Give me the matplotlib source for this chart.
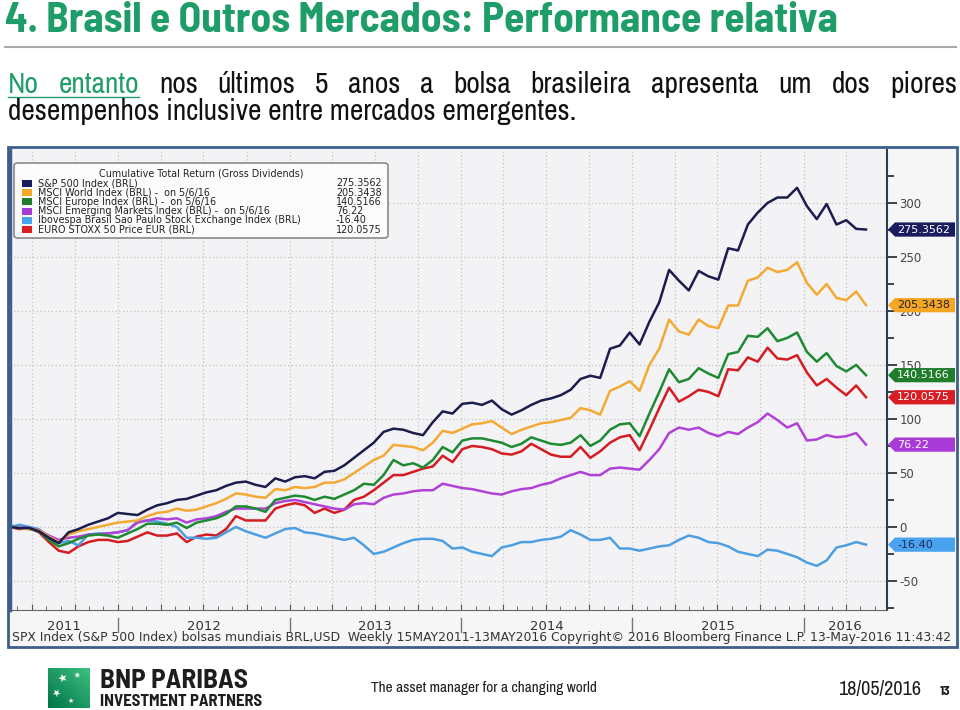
import numpy as np
import pandas as pd
import matplotlib
matplotlib.use('Agg')
import matplotlib.pyplot as plt
import matplotlib.dates as mdates
from matplotlib.lines import Line2D
from matplotlib.patches import Rectangle, Polygon, FancyBboxPatch
from matplotlib.ticker import MultipleLocator
from matplotlib.transforms import blended_transform_factory
from matplotlib.colors import LinearSegmentedColormap

plt.rcParams['axes.unicode_minus'] = False

W, H = 960, 710

dates = pd.date_range('2011-05-15', '2016-05-13', periods=88)

spx = [0, -1, -1, -4, -10, -15, -5, -2, 2, 5,
       8, 13, 12, 11, 16, 20, 22, 25, 26, 29,
       32, 34, 38, 41, 42, 39, 37, 45, 42, 46,
       47, 45, 51, 52, 57, 64, 71, 78, 88, 91,
       90, 87, 85, 97, 107, 105, 114, 115, 113, 117,
       109, 104, 108, 113, 117, 119, 122, 127, 137, 140,
       138, 165, 168, 180, 169, 190, 208, 238, 228, 219,
       237, 232, 229, 258, 256, 280, 291, 300, 305, 305,
       314, 297, 285, 299, 280, 284, 276, 275.36]

world = [0, -1, -2, -3, -9, -14, -7, -4, -2, 0,
         2, 4, 5, 6, 10, 13, 14, 17, 15, 16,
         19, 22, 26, 31, 30, 28, 27, 35, 34, 37,
         36, 37, 41, 41, 44, 50, 56, 62, 66, 76,
         75, 74, 71, 78, 89, 87, 91, 95, 96, 98,
         92, 86, 90, 93, 96, 97, 99, 101, 110, 108,
         104, 126, 130, 135, 126, 150, 165, 192, 181, 178,
         192, 186, 184, 205, 205, 228, 231, 240, 236, 238,
         245, 226, 215, 225, 212, 210, 218, 205.34]

europe = [0, -1, -2, -4, -12, -18, -15, -11, -8, -7,
          -8, -10, -6, -2, 3, 3, 2, 4, -1, 4,
          6, 8, 12, 19, 19, 17, 14, 25, 27, 29,
          28, 25, 28, 26, 30, 34, 40, 39, 48, 62,
          57, 59, 55, 62, 74, 69, 80, 82, 82, 80,
          78, 74, 77, 83, 80, 77, 76, 78, 85, 75,
          80, 90, 95, 96, 84, 105, 125, 146, 134, 137,
          147, 142, 138, 160, 162, 177, 176, 184, 172, 175,
          180, 162, 153, 161, 149, 144, 150, 140.52]

emerging = [0, -1, -1, -3, -8, -12, -10, -9, -7, -7,
            -6, -5, -3, 4, 6, 8, 7, 8, 4, 7,
            8, 10, 14, 17, 17, 17, 17, 22, 24, 25,
            23, 21, 19, 17, 16, 21, 22, 21, 27, 30,
            31, 33, 34, 34, 40, 38, 36, 35, 33, 31,
            30, 33, 35, 36, 39, 41, 45, 48, 51, 48,
            48, 54, 55, 54, 53, 62, 72, 87, 92, 90,
            92, 87, 84, 88, 86, 92, 97, 105, 99, 92,
            96, 80, 81, 85, 83, 84, 87, 76.22]

ibovespa = [0, 2, 0, -2, -10, -15, -13, -17, -7, -6,
            -6, -5, -3, 5, 6, 5, 3, 0, -10, -10,
            -11, -10, -5, 0, -4, -7, -10, -6, -2, -1,
            -5, -6, -8, -10, -12, -10, -17, -25, -23, -19,
            -15, -12, -11, -11, -13, -20, -19, -23, -25, -27,
            -19, -17, -14, -14, -12, -11, -9, -3, -7, -12,
            -12, -10, -20, -20, -22, -20, -18, -17, -12, -8,
            -10, -14, -15, -18, -23, -25, -27, -21, -22, -25,
            -28, -33, -36, -31, -19, -17, -14, -16.40]

eurostoxx = [0, -2, -1, -5, -14, -22, -24, -18, -14, -12,
             -12, -14, -13, -9, -5, -8, -8, -6, -14, -9,
             -7, -8, -2, 10, 6, 6, 6, 17, 20, 22,
             20, 13, 17, 13, 16, 25, 28, 34, 41, 48,
             48, 51, 54, 56, 66, 60, 72, 75, 74, 72,
             68, 67, 70, 77, 72, 67, 65, 65, 74, 64,
             70, 78, 83, 85, 71, 90, 110, 129, 116, 121,
             127, 125, 121, 146, 145, 157, 153, 166, 156, 155,
             159, 143, 131, 137, 129, 122, 131, 120.06]

names = ['S&P 500 Index (BRL)',
         'MSCI World Index (BRL) -  on 5/6/16',
         'MSCI Europe Index (BRL) -  on 5/6/16',
         'MSCI Emerging Markets Index (BRL) -  on 5/6/16',
         'Ibovespa Brasil Sao Paulo Stock Exchange Index (BRL)',
         'EURO STOXX 50 Price EUR (BRL)']
last_txt = ['275.3562', '205.3438', '140.5166', '76.22', '-16.40', '120.0575']
series = [spx, world, europe, emerging, ibovespa, eurostoxx]

line_cols = ['#1c1d4f', '#f5a935', '#1e8a31', '#b142d8', '#4d9fe2', '#d41c22']
tag_cols = ['#1b1c5e', '#f5a623', '#1f7d2c', '#a83bd8', '#4aa3ef', '#d81e24']
tag_txt = ['white', '#222222', 'white', 'white', '#1b2a5a', 'white']

green = '#1f9d69'
narrow = ['Archivo Narrow', 'Liberation Sans', 'DejaVu Sans']
narrow_bold = ['Barlow Semi Condensed', 'PT Sans Narrow', 'Liberation Sans', 'DejaVu Sans']


def fx(p):
    return p / W


def fy(p):
    return 1 - p / H


fig = plt.figure(figsize=(9.6, 7.1), dpi=100)
fig.patch.set_facecolor('white')
rend = fig.canvas.get_renderer()


def fit(t, width_px, max_fs=None):
    w = t.get_window_extent(rend).width
    size = t.get_fontsize() * width_px / w
    if max_fs is not None:
        size = min(size, max_fs)
    t.set_fontsize(size)


# titulo
t = fig.text(fx(5), fy(32), '4. Brasil e Outros Mercados: Performance relativa',
             fontsize=26, fontweight='bold', color=green, family=narrow_bold, va='baseline')
fit(t, 833, max_fs=30)
fig.add_artist(Line2D([fx(5), fx(956)], [fy(47), fy(47)], color='#aaaaaa', lw=1.5))

# texto justificado
l2 = fig.text(fx(8), fy(120), 'desempenhos inclusive entre mercados emergentes.',
              fontsize=18, family=narrow, color='#111111', va='baseline')
fit(l2, 570)
fs = l2.get_fontsize()
words = ['No', 'entanto', 'nos', 'últimos', '5', 'anos', 'a', 'bolsa',
         'brasileira', 'apresenta', 'um', 'dos', 'piores']
arts = [fig.text(0, fy(93), w, fontsize=fs, family=narrow, va='baseline',
                 color=green if i < 2 else '#111111') for i, w in enumerate(words)]
widths = [a.get_window_extent(rend).width for a in arts]
gap = (957 - 8 - sum(widths)) / (len(words) - 1)
xpos = 8
for a, w in zip(arts, widths):
    a.set_x(fx(xpos))
    xpos += w + gap
x_end = 8 + widths[0] + gap + widths[1]
fig.add_artist(Line2D([fx(8), fx(x_end)], [fy(96.5), fy(96.5)], color=green, lw=1))

# painel do grafico
fig.add_artist(Rectangle((fx(8), fy(647)), 949 / W, 500 / H, transform=fig.transFigure,
                         fc='#f6f6f6', ec='none', zorder=-1))
fig.add_artist(Rectangle((fx(8), fy(647)), 949 / W, 500 / H, transform=fig.transFigure,
                         fill=False, ec='#3d5f8c', lw=2, zorder=10))

ax = fig.add_axes([fx(10), fy(610), 877 / W, 460 / H])
ax.set_facecolor('#f3f3f5')
for vals, col in list(zip(series, line_cols))[::-1]:
    ax.plot(dates, vals, color=col, lw=1.8, solid_joinstyle='round')

dnum = mdates.date2num(dates)
per_px = (dnum[-1] - dnum[0]) / (866 - 9.5)
ax.set_xlim(dnum[0] + (10 - 9.5) * per_px, dnum[0] + (887 - 9.5) * per_px)
ax.set_ylim(-76.9, 349)

ax.xaxis.set_major_locator(mdates.MonthLocator(bymonth=[1, 4, 7, 10]))
ax.xaxis.set_minor_locator(mdates.MonthLocator())
ax.tick_params(axis='x', which='both', labelbottom=False, direction='in', color='#555555')
ax.tick_params(axis='x', which='major', length=4)
ax.tick_params(axis='x', which='minor', length=3)

ax.yaxis.tick_right()
ax.yaxis.set_major_locator(MultipleLocator(50))
ax.yaxis.set_minor_locator(MultipleLocator(25))
ax.tick_params(axis='y', which='both', direction='out', color='#333333', width=1.3,
               labelsize=8.5, labelcolor='#444444', pad=2)
ax.tick_params(axis='y', which='major', length=7)
ax.tick_params(axis='y', which='minor', length=5)

ax.grid(axis='x', which='major', ls=(0, (1, 2)), color='#c4c4c4', lw=0.9)
ax.grid(axis='y', which='major', ls=(0, (1, 2)), color='#c4c4c4', lw=0.9)

ax.spines['top'].set_visible(False)
ax.spines['left'].set_color('#3d5f8c')
ax.spines['left'].set_linewidth(2.5)
ax.spines['right'].set_color('#2d3b55')
ax.spines['right'].set_linewidth(1.5)
ax.spines['bottom'].set_color('#666666')

# etiquetas de ultimo valor
tr = blended_transform_factory(ax.transAxes, ax.transData)
tip, xl, xr = (888 - 10) / 877, (895 - 10) / 877, (955 - 10) / 877
h = 6.6
for vals, col, tc, txt in zip(series, tag_cols, tag_txt, last_txt):
    v = vals[-1]
    ax.add_patch(Polygon([(tip, v), (xl, v + h), (xr, v + h), (xr, v - h), (xl, v - h)],
                         closed=True, transform=tr, fc=col, ec='none', clip_on=False, zorder=5))
    ax.text((897 - 10) / 877, v, txt, transform=tr, color=tc, fontsize=8,
            va='center', ha='left', clip_on=False, zorder=6)

# anos no eixo x
tr2 = blended_transform_factory(ax.transData, ax.transAxes)
xmin, xmax = ax.get_xlim()
for yr in range(2011, 2017):
    a = max(mdates.date2num(pd.Timestamp(f'{yr}-01-01')), xmin)
    b = min(mdates.date2num(pd.Timestamp(f'{yr + 1}-01-01')), xmax)
    ax.text((a + b) / 2, -16 / 460, str(yr), transform=tr2, ha='center', va='center',
            fontsize=9.5, color='#333333', clip_on=False)
    if yr > 2011:
        ax.add_line(Line2D([a, a], [-8 / 460, -22 / 460], transform=tr2, color='#777777',
                           lw=1, clip_on=False))

foot = fig.text(fx(12), fy(641), 'SPX Index (S&P 500 Index) bolsas mundiais BRL,USD  '
                'Weekly 15MAY2011-13MAY2016 Copyright\u00a9 2016 Bloomberg Finance L.P. '
                '13-May-2016 11:43:42', fontsize=8, color='#333333', va='baseline')
fit(foot, 943)

# legenda
fig.add_artist(FancyBboxPatch((fx(14), fy(238)), 374 / W, 75 / H,
                              boxstyle='round,pad=0,rounding_size=0.004',
                              transform=fig.transFigure, fc='#fbfbfb', ec='#8a8a8a', lw=1.2,
                              zorder=2))
fig.text(fx(201), fy(173), 'Cumulative Total Return (Gross Dividends)', ha='center',
         va='center', fontsize=6.9, color='#222222', zorder=3)
for i, (nm, col, txt) in enumerate(zip(names, tag_cols, last_txt)):
    yc = 183.5 + i * 9.25
    fig.add_artist(Rectangle((fx(22), fy(yc + 3.5)), 10 / W, 7 / H, transform=fig.transFigure,
                             fc=col, ec='none', zorder=3))
    fig.text(fx(38), fy(yc), nm, va='center', fontsize=6.9, color='#222222', zorder=3)
    fig.text(fx(336), fy(yc), txt, va='center', fontsize=6.9, color='#222222', zorder=3)

# rodape BNP
ax_logo = fig.add_axes([fx(48), fy(708), 42 / W, 40 / H])
grad = np.add.outer(np.linspace(0, 1, 40), np.linspace(1, 0, 42)) / 2
ax_logo.imshow(grad, cmap=LinearSegmentedColormap.from_list('g', ['#3cc07f', '#00744a']),
               aspect='auto')
ax_logo.axis('off')
for (sx, sy, ss, rot) in [(0.35, 0.72, 8, 20), (0.68, 0.82, 6, -10),
                          (0.22, 0.38, 7, 40), (0.55, 0.18, 5, 0)]:
    ax_logo.text(sx, sy, '\u2605', transform=ax_logo.transAxes, color='white', fontsize=ss,
                 ha='center', va='center', rotation=rot)

t = fig.text(fx(100), fy(688), 'BNP PARIBAS', fontsize=16, fontweight='bold',
             family=narrow_bold, color='#1d1d1b', va='baseline')
fit(t, 147, max_fs=20)
t = fig.text(fx(100), fy(706), 'INVESTMENT PARTNERS', fontsize=11, fontweight='bold',
             family=narrow_bold, color='#1d1d1b', va='baseline')
fit(t, 186, max_fs=12)
t = fig.text(fx(371), fy(692), 'The asset manager for a changing world', fontsize=10,
             family=narrow, color='#1d1d1b', va='baseline')
fit(t, 226)
t = fig.text(fx(838), fy(695), '18/05/2016', fontsize=8, family=narrow, color='#1d1d1b',
             va='baseline')
fit(t, 84)
fig.text(fx(940), fy(695), '13', fontsize=9.5, fontweight='bold', family=narrow_bold,
         color='#1d1d1b', va='baseline')

fig.savefig('out.png', dpi=100)
